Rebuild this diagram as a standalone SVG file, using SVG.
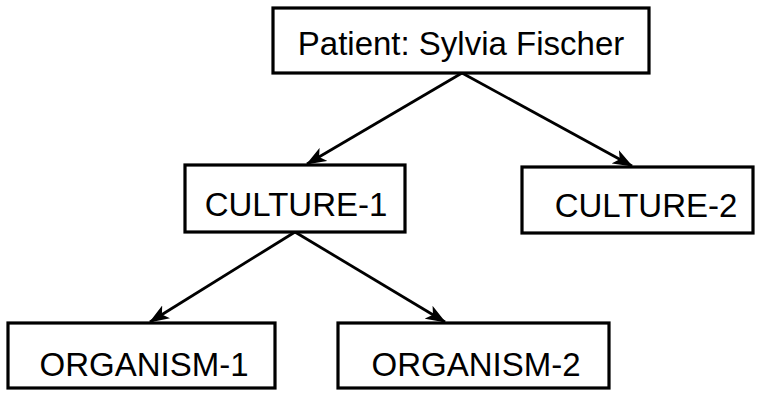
<svg xmlns="http://www.w3.org/2000/svg" width="764" height="393" viewBox="0 0 764 393">
  <style>
    .box { fill: #ffffff; stroke: #000000; stroke-width: 3.2; }
    .label { font-family: "Liberation Sans", Arial, Helvetica, sans-serif; font-size: 33px; fill: #000000; text-anchor: middle; }
    .edge { stroke: #000000; stroke-width: 2.8; fill: none; marker-end: url(#arrow); }
  </style>
  <defs>
    <marker id="arrow" markerUnits="userSpaceOnUse" markerWidth="22" markerHeight="16" refX="19" refY="8" orient="auto">
      <path d="M0,0.5 L20,8 L0,15.5 L5,8 Z" fill="#000000"/>
    </marker>
  </defs>
  <rect width="764" height="393" fill="#ffffff"/>
  <g id="connectors">
    <line class="edge" x1="462" y1="73" x2="307" y2="164"/>
    <line class="edge" x1="462" y1="73" x2="632" y2="166"/>
    <line class="edge" x1="295" y1="232" x2="150" y2="322"/>
    <line class="edge" x1="295" y1="232" x2="445" y2="322"/>
  </g>
  <g id="patient">
    <rect class="box" x="273" y="8" width="376" height="65"/>
    <text class="label" x="461" y="55">Patient: Sylvia Fischer</text>
  </g>
  <g id="culture-1">
    <rect class="box" x="185" y="165" width="220" height="67"/>
    <text class="label" x="296" y="216">CULTURE-1</text>
  </g>
  <g id="culture-2">
    <rect class="box" x="522" y="167" width="231" height="66"/>
    <text class="label" x="646" y="217">CULTURE-2</text>
  </g>
  <g id="organism-1">
    <rect class="box" x="8" y="323" width="267" height="65"/>
    <text class="label" x="144" y="376">ORGANISM-1</text>
  </g>
  <g id="organism-2">
    <rect class="box" x="338" y="323" width="271" height="65"/>
    <text class="label" x="476" y="376">ORGANISM-2</text>
  </g>
</svg>
